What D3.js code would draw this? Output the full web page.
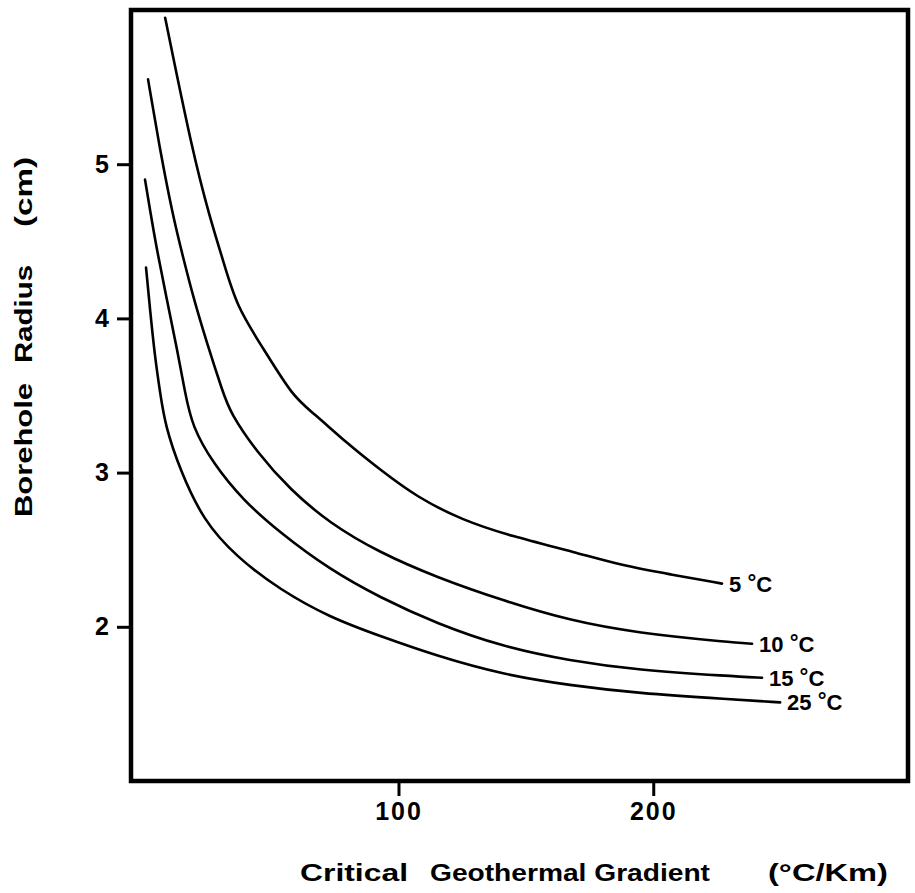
<!doctype html>
<meta charset="utf-8">
<title>Borehole Radius vs Critical Geothermal Gradient</title>
<style>
body { margin: 0; background: #fff; }
svg { font-family: "Liberation Sans", Arial, sans-serif; font-weight: bold; }
.axis text { font-size: 25px; font-weight: bold; fill: #000; letter-spacing: 2px; }
.axis line { stroke: #000; stroke-width: 3px; }
.axis path { display: none; }
</style>
<script src="https://cdn.jsdelivr.net/npm/d3@7"></script>
<body>
<svg id="chart" width="915" height="893"></svg>
<script>
// gradient (°C/Km) vs radius (cm)
var t5 = [[8.4,5.95],[19.0,5.09],[26.0,4.65],[31.1,4.38],[36.6,4.07],[46.8,3.81],[58.6,3.49],[66.4,3.39],[79.8,3.19],[92.7,3.02],[107.3,2.84],[125.3,2.69],[143.8,2.59],[170.1,2.48],[187.0,2.40],[206.6,2.34],[227.0,2.28]];
var t10 = [[1.7,5.55],[6.4,5.09],[11.5,4.66],[15.4,4.40],[19.4,4.14],[24.8,3.84],[31.1,3.52],[33.9,3.39],[44.5,3.13],[57.4,2.89],[73.1,2.67],[92.7,2.48],[115.1,2.32],[141.0,2.17],[167.3,2.04],[193.6,1.96],[230.1,1.90],[238.8,1.89]];
var t15 = [[0.5,4.90],[2.5,4.70],[5.2,4.44],[9.1,4.12],[13.1,3.80],[16.2,3.52],[19.0,3.30],[27.2,3.06],[39.0,2.82],[53.5,2.61],[73.1,2.37],[92.7,2.19],[115.1,2.02],[141.0,1.87],[167.3,1.78],[193.6,1.72],[230.1,1.68],[242.7,1.67]];
var t25 = [[0.9,4.33],[2.5,4.05],[4.4,3.75],[6.4,3.52],[8.5,3.30],[14.2,3.02],[23.3,2.69],[36.6,2.45],[53.5,2.24],[73.1,2.06],[92.7,1.94],[115.1,1.81],[141.0,1.69],[167.3,1.62],[193.6,1.57],[230.1,1.53],[249.8,1.51]];

var series = [t5, t10, t15, t25];
var curveLabels = ["5", "10", "15", "25"];
var xTicks = [100, 200];
var yTicks = [2, 3, 4, 5];

var svg = d3.select("#chart");

var x = d3.scaleLinear().domain([-5, 300]).range([131, 908]);
var y = d3.scaleLinear().domain([1, 6]).range([781, 10]);

// frame
svg.append("rect")
  .attr("x", x(-5)).attr("y", y(6))
  .attr("width", x(300) - x(-5)).attr("height", y(1) - y(6))
  .attr("fill", "none").attr("stroke", "#000").attr("stroke-width", 4.5);

svg.append("g").attr("class", "axis")
  .attr("transform", "translate(0," + y(1) + ")")
  .call(d3.axisBottom(x).tickValues(xTicks).tickSize(15).tickPadding(6).tickFormat(d3.format("d")));

svg.append("g").attr("class", "axis")
  .attr("transform", "translate(" + x(-5) + ",0)")
  .call(d3.axisLeft(y).tickValues(yTicks).tickSize(14).tickPadding(6).tickFormat(d3.format("d")));

var line = d3.line()
  .x(function(d) { return x(d[0]); })
  .y(function(d) { return y(d[1]); })
  .curve(d3.curveBasis);

svg.selectAll("path.curve").data(series).enter().append("path")
  .attr("class", "curve")
  .attr("d", line)
  .attr("fill", "none").attr("stroke", "#000").attr("stroke-width", 2.6)
  .attr("stroke-linecap", "round");

// end labels
var lab = svg.selectAll("text.lab").data(series).enter().append("text")
  .attr("class", "lab")
  .attr("x", function(d) { return x(d[d.length - 1][0]) + 7; })
  .attr("y", function(d) { return y(d[d.length - 1][1]) + 8; })
  .attr("font-size", 22);
lab.append("tspan").text(function(d, i) { return curveLabels[i] + " "; });
lab.append("tspan").attr("dy", -2).attr("font-size", 22).text("°");
lab.append("tspan").attr("dy", 2).text("C");

// axis titles
var xt = svg.append("g").attr("font-size", 24);
xt.append("text").attr("x", 300).attr("y", 881).attr("textLength", 108).attr("lengthAdjust", "spacingAndGlyphs").text("Critical");
xt.append("text").attr("x", 430).attr("y", 881).attr("textLength", 280).attr("lengthAdjust", "spacingAndGlyphs").text("Geothermal Gradient");
xt.append("text").attr("x", 768).attr("y", 881).attr("textLength", 120).attr("lengthAdjust", "spacingAndGlyphs").text("(°C/Km)");

var yt = svg.append("g").attr("font-size", 24)
  .attr("transform", "translate(32,0) rotate(-90)");
yt.append("text").attr("x", -517).attr("y", 0).attr("textLength", 134).attr("lengthAdjust", "spacingAndGlyphs").text("Borehole");
yt.append("text").attr("x", -363).attr("y", 0).attr("textLength", 98).attr("lengthAdjust", "spacingAndGlyphs").text("Radius");
yt.append("text").attr("x", -227).attr("y", 0).attr("textLength", 70).attr("lengthAdjust", "spacingAndGlyphs").text("(cm)");
</script>
</body>
